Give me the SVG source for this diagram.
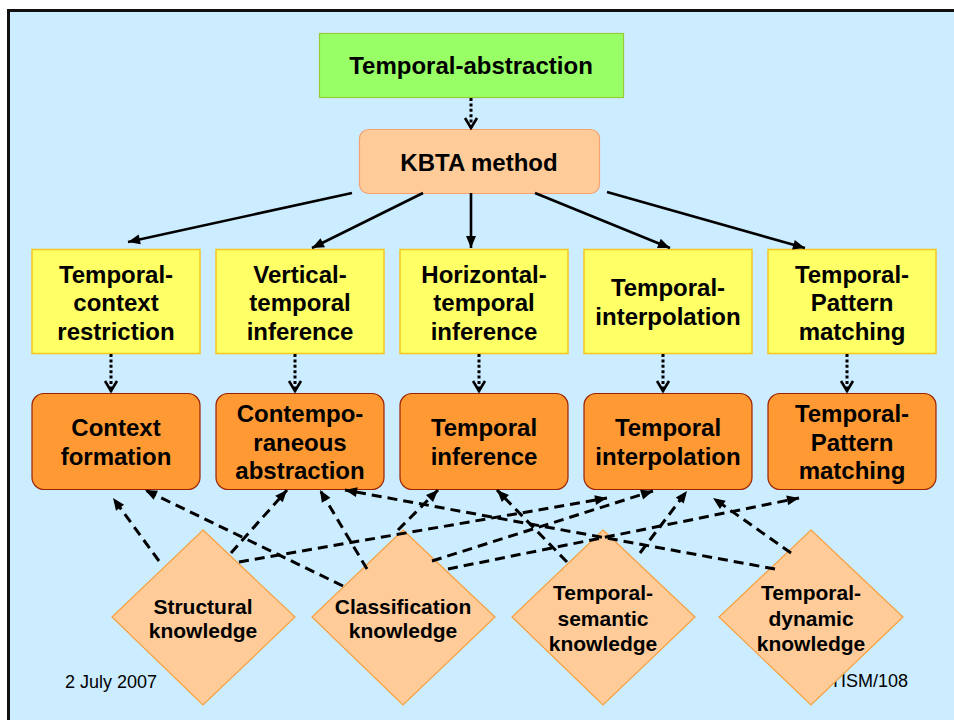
<svg xmlns="http://www.w3.org/2000/svg" width="954" height="720" viewBox="0 0 954 720">
  <style>
    text { font-family: "Liberation Sans", Arial, sans-serif; fill: #000; text-anchor: middle; }
    .t24 { font-size: 24px; font-weight: bold; }
    .t21 { font-size: 21px; font-weight: bold; }
    .foot { font-size: 18px; }
    .green { fill: #99FF66; stroke: #99CC33; stroke-width: 1.2; }
    .kbta { fill: #FFCC99; stroke: #F4A070; stroke-width: 1.2; }
    .task { fill: #FFFF66; stroke: #F2C81C; stroke-width: 1.5; }
    .mech { fill: #FF9933; stroke: #992200; stroke-width: 1.2; }
    .know { fill: #FFCC99; stroke: #F7A040; stroke-width: 1.2; }
    .solid { stroke: #000; stroke-width: 2.6; fill: none; marker-end: url(#head); }
    .dotted { stroke: #000; stroke-width: 3; stroke-dasharray: 3 2.4; fill: none; marker-end: url(#vee); }
    .dashed { stroke: #000; stroke-width: 3; stroke-dasharray: 10 6; fill: none; marker-end: url(#head); }
  </style>
  <defs>
    <marker id="head" markerUnits="userSpaceOnUse" markerWidth="16" markerHeight="14" viewBox="-13 -7 15 14" refX="0" refY="0" orient="auto">
      <path d="M-12,-5 L0,0 L-12,5 z" fill="#000"/>
    </marker>
    <marker id="vee" markerUnits="userSpaceOnUse" markerWidth="16" markerHeight="16" viewBox="-14 -8 16 16" refX="0" refY="0" orient="auto">
      <path d="M-11,-6 L-1,0 L-11,6" fill="none" stroke="#000" stroke-width="2.6"/>
    </marker>
  </defs>

  <!-- page and frame -->
  <rect x="0" y="0" width="954" height="720" fill="#FFFFFF"/>
  <rect x="8.5" y="10.5" width="970" height="740" fill="#CCECFF" stroke="#111" stroke-width="3"/>

  <!-- footer -->
  <g id="footer">
    <text class="foot" x="65" y="688" style="text-anchor:start">2 July 2007</text>
    <text class="foot" x="908" y="687" style="text-anchor:end">TISM/108</text>
  </g>

  <!-- top level -->
  <g id="temporal-abstraction">
    <rect class="green" x="319.5" y="33.5" width="304" height="64"/>
    <text class="t24" x="471" y="74">Temporal-abstraction</text>
  </g>
  <g id="kbta-method">
    <rect class="kbta" x="359.5" y="129.5" width="240" height="64" rx="9"/>
    <text class="t24" x="479" y="171">KBTA method</text>
  </g>

  <!-- tasks -->
  <g id="task-context">
    <rect class="task" x="32" y="249.5" width="168" height="104"/>
    <text class="t24" x="116" y="282.5">Temporal-</text>
    <text class="t24" x="116" y="311">context</text>
    <text class="t24" x="116" y="339.5">restriction</text>
  </g>
  <g id="task-vertical">
    <rect class="task" x="216" y="249.5" width="168" height="104"/>
    <text class="t24" x="300" y="282.5">Vertical-</text>
    <text class="t24" x="300" y="311">temporal</text>
    <text class="t24" x="300" y="339.5">inference</text>
  </g>
  <g id="task-horizontal">
    <rect class="task" x="400" y="249.5" width="168" height="104"/>
    <text class="t24" x="484" y="282.5">Horizontal-</text>
    <text class="t24" x="484" y="311">temporal</text>
    <text class="t24" x="484" y="339.5">inference</text>
  </g>
  <g id="task-interpolation">
    <rect class="task" x="584" y="249.5" width="168" height="104"/>
    <text class="t24" x="668" y="296">Temporal-</text>
    <text class="t24" x="668" y="324.5">interpolation</text>
  </g>
  <g id="task-pattern">
    <rect class="task" x="768" y="249.5" width="168" height="104"/>
    <text class="t24" x="852" y="282.5">Temporal-</text>
    <text class="t24" x="852" y="311">Pattern</text>
    <text class="t24" x="852" y="339.5">matching</text>
  </g>

  <!-- mechanisms -->
  <g id="mech-context">
    <rect class="mech" x="32" y="393.5" width="168" height="96" rx="12"/>
    <text class="t24" x="116" y="436">Context</text>
    <text class="t24" x="116" y="464.5">formation</text>
  </g>
  <g id="mech-contemporaneous">
    <rect class="mech" x="216" y="393.5" width="168" height="96" rx="12"/>
    <text class="t24" x="300" y="422">Contempo-</text>
    <text class="t24" x="300" y="450.5">raneous</text>
    <text class="t24" x="300" y="479">abstraction</text>
  </g>
  <g id="mech-inference">
    <rect class="mech" x="400" y="393.5" width="168" height="96" rx="12"/>
    <text class="t24" x="484" y="436">Temporal</text>
    <text class="t24" x="484" y="464.5">inference</text>
  </g>
  <g id="mech-interpolation">
    <rect class="mech" x="584" y="393.5" width="168" height="96" rx="12"/>
    <text class="t24" x="668" y="436">Temporal</text>
    <text class="t24" x="668" y="464.5">interpolation</text>
  </g>
  <g id="mech-pattern">
    <rect class="mech" x="768" y="393.5" width="168" height="96" rx="12"/>
    <text class="t24" x="852" y="422">Temporal-</text>
    <text class="t24" x="852" y="450.5">Pattern</text>
    <text class="t24" x="852" y="479">matching</text>
  </g>

  <!-- knowledge types -->
  <g id="know-structural">
    <polygon class="know" points="203,530 295,617 203,705 112,617"/>
    <text class="t21" x="203" y="613.5">Structural</text>
    <text class="t21" x="203" y="637.5">knowledge</text>
  </g>
  <g id="know-classification">
    <polygon class="know" points="403,530 495,617 403,705 312,617"/>
    <text class="t21" x="403" y="613.5">Classification</text>
    <text class="t21" x="403" y="637.5">knowledge</text>
  </g>
  <g id="know-semantic">
    <polygon class="know" points="603,530 695,617 603,705 512,617"/>
    <text class="t21" x="603" y="600">Temporal-</text>
    <text class="t21" x="603" y="625.5">semantic</text>
    <text class="t21" x="603" y="651">knowledge</text>
  </g>
  <g id="know-dynamic">
    <polygon class="know" points="811,530 903,617 811,705 719,617"/>
    <text class="t21" x="811" y="600">Temporal-</text>
    <text class="t21" x="811" y="625.5">dynamic</text>
    <text class="t21" x="811" y="651">knowledge</text>
  </g>

  <!-- connectors -->
  <g id="connectors">
    <!-- method refinement -->
    <line class="dotted" x1="471" y1="98" x2="471" y2="129"/>
    <!-- method to its tasks -->
    <line class="solid" x1="352" y1="193" x2="128" y2="242"/>
    <line class="solid" x1="423" y1="193" x2="312" y2="248"/>
    <line class="solid" x1="471" y1="193" x2="471" y2="248"/>
    <line class="solid" x1="535" y1="193" x2="670" y2="248"/>
    <line class="solid" x1="607" y1="192" x2="805" y2="248"/>
    <!-- tasks solved by mechanisms -->
    <line class="dotted" x1="111" y1="354" x2="111" y2="392"/>
    <line class="dotted" x1="295" y1="354" x2="295" y2="392"/>
    <line class="dotted" x1="479" y1="354" x2="479" y2="392"/>
    <line class="dotted" x1="663" y1="354" x2="663" y2="392"/>
    <line class="dotted" x1="847" y1="354" x2="847" y2="392"/>
    <!-- knowledge used by mechanisms -->
    <line class="dashed" x1="159" y1="561" x2="113" y2="498"/>
    <line class="dashed" x1="231" y1="553" x2="287" y2="490"/>
    <line class="dashed" x1="239" y1="562" x2="607" y2="498"/>
    <line class="dashed" x1="343" y1="586" x2="145" y2="490"/>
    <line class="dashed" x1="367" y1="569" x2="320" y2="490"/>
    <line class="dashed" x1="398" y1="530" x2="438" y2="490"/>
    <line class="dashed" x1="432" y1="561" x2="653" y2="491"/>
    <line class="dashed" x1="448" y1="569" x2="799" y2="498"/>
    <line class="dashed" x1="567" y1="562" x2="497" y2="490"/>
    <line class="dashed" x1="640" y1="553" x2="687" y2="491"/>
    <line class="dashed" x1="791" y1="553" x2="713" y2="498"/>
    <line class="dashed" x1="775" y1="569" x2="345" y2="490"/>
  </g>
</svg>
